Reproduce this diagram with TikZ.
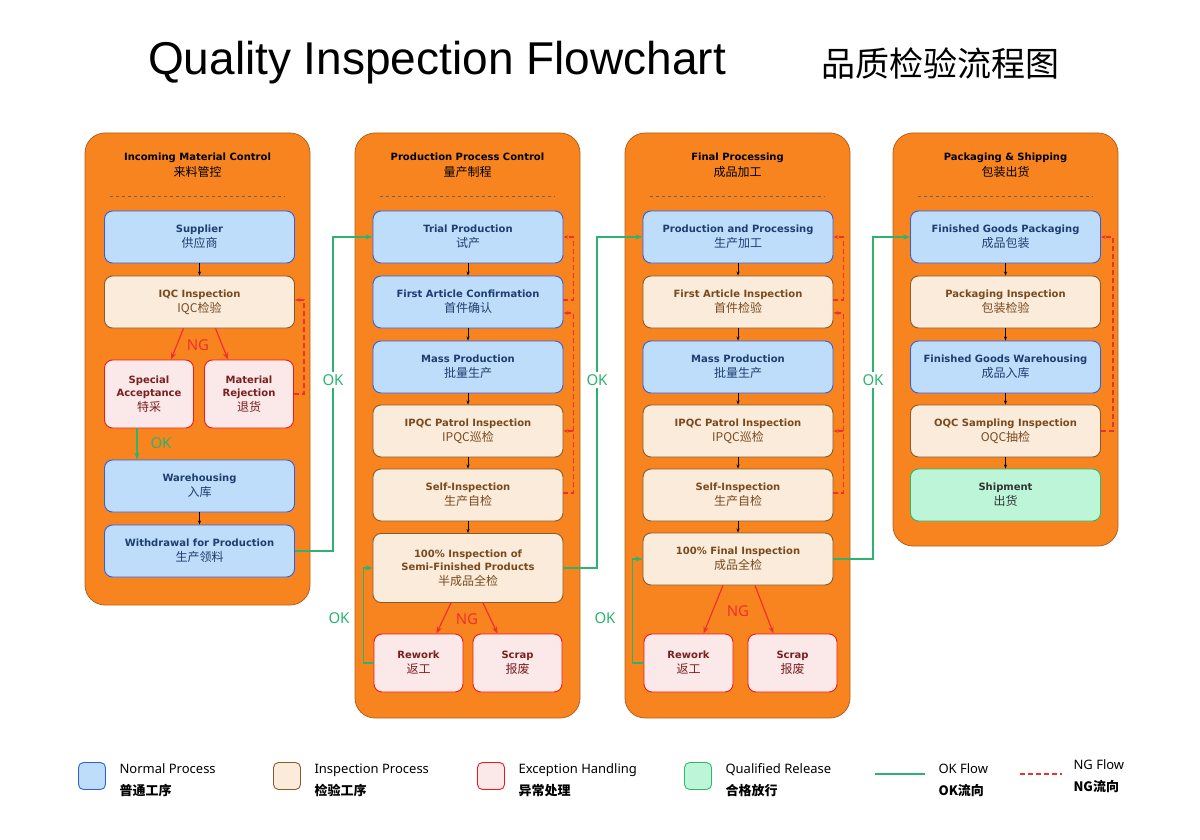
\documentclass[tikz,border=0pt]{standalone}
\usepackage{fontspec}
\setmainfont{DejaVu Sans}
\newfontfamily\cjk{Noto Sans CJK SC}
\newfontfamily\titlefont{Liberation Sans}
\newfontfamily\legfont{Noto Sans}
\usetikzlibrary{positioning,arrows.meta}

\definecolor{colfill}{HTML}{F7841F}
\definecolor{colline}{HTML}{B5611C}
\definecolor{normfill}{HTML}{BEDDFB}
\definecolor{normline}{HTML}{2F5FE8}
\definecolor{normtext}{HTML}{1E3E6E}
\definecolor{inspfill}{HTML}{FAEBDA}
\definecolor{inspline}{HTML}{8B5A2B}
\definecolor{insptext}{HTML}{7A4A1E}
\definecolor{excfill}{HTML}{FBE9EA}
\definecolor{excline}{HTML}{F01818}
\definecolor{exctext}{HTML}{7A1F1F}
\definecolor{passfill}{HTML}{BDF5D8}
\definecolor{passline}{HTML}{2DB86A}
\definecolor{okgreen}{HTML}{2DB36F}
\definecolor{ngred}{HTML}{F03030}

\newcommand{\twoline}[2]{#1\\[2pt]{\cjk\mdseries\fontsize{12}{14}\selectfont #2}}

\tikzset{
  col/.style={fill=colfill,draw=colline,line width=0.8pt,rounded corners=20},
  stepbox/.style={rounded corners=8,line width=0.9pt,minimum width=190,minimum height=52,
    align=center,font=\bfseries\fontsize{10}{13}\selectfont,inner sep=2pt},
  norm/.style={stepbox,fill=normfill,draw=normline,text=normtext},
  insp/.style={stepbox,fill=inspfill,draw=inspline,text=insptext},
  exc/.style={stepbox,fill=excfill,draw=excline,text=exctext,minimum width=89,minimum height=58},
  pass/.style={stepbox,fill=passfill,draw=passline,text=black!80},
  nxt/.style={-{Stealth[length=4pt]},black,line width=0.8pt},
  okline/.style={okgreen,line width=1.2pt,-{Stealth[length=7pt]}},
  ngline/.style={ngred,line width=1.2pt,dash pattern=on 5pt off 3pt,-{Stealth[length=5pt]}},
  ngarr/.style={ngred,line width=1.2pt,-{Stealth[length=7pt]}},
  oklbl/.style={text=okgreen,font=\legfont\fontsize{15}{15}\selectfont,fill=white,inner sep=2pt},
  nglbl/.style={text=ngred,font=\legfont\fontsize{15}{15}\selectfont,inner sep=1pt},
  head/.style={align=center,font=\bfseries\fontsize{10}{16}\selectfont},
  legbox/.style={rounded corners=5,line width=0.9pt,minimum width=27,minimum height=27},
  legtxt/.style={align=left,anchor=west,font=\legfont\bfseries\fontsize{13}{22}\selectfont}
}

\begin{document}
\begin{tikzpicture}[x=1pt,y=-1pt]
\useasboundingbox (0,0) rectangle (1200,840);

% title
\node[font=\titlefont\fontsize{46}{50}\selectfont] (title) at (437,63) {Quality Inspection Flowchart};
\node[font=\cjk\fontsize{34}{40}\selectfont] (titlezh) at (940,63) {品质检验流程图};

% columns
\foreach \x/\b/\en/\zh in {85/605/Incoming Material Control/来料管控,
    355/718/Production Process Control/量产制程,
    625/718/Final Processing/成品加工,
    893/546/Packaging \& Shipping/包装出货}{
  \draw[col] (\x,133) rectangle (\x+225,\b);
  \node[head] at (\x+112.5,165) {\en\\{\cjk\mdseries\fontsize{12}{14}\selectfont \zh}};
  \draw[black!60,dashed,line width=0.5pt] (\x+25,196) -- (\x+200,196);
}

% incoming material control
\node[norm] (sup) at (199.5,237) {\twoline{Supplier}{供应商}};
\node[insp] (iqc) at (199.5,302) {\twoline{IQC Inspection}{IQC检验}};
\node[exc,minimum height=68] (spec) at (149,394) {Special\\Acceptance\\[2pt]{\cjk\mdseries\fontsize{12}{14}\selectfont 特采}};
\node[exc,minimum height=68] (rej) at (249,394) {Material\\Rejection\\[2pt]{\cjk\mdseries\fontsize{12}{14}\selectfont 退货}};
\node[norm] (wh) at (199.5,486) {\twoline{Warehousing}{入库}};
\node[norm] (wd) at (199.5,551) {\twoline{Withdrawal for Production}{生产领料}};

% production process control
\node[norm] (tri) at (468,237) {\twoline{Trial Production}{试产}};
\node[norm] (fac) at (468,302) {\twoline{First Article Confirmation}{首件确认}};
\node[norm] (mass) at (468,367) {\twoline{Mass Production}{批量生产}};
\node[insp] (ipqc) at (468,431) {\twoline{IPQC Patrol Inspection}{IPQC巡检}};
\node[insp] (self) at (468,495) {\twoline{Self-Inspection}{生产自检}};
\node[insp,minimum height=69] (semi) at (468,568) {100\% Inspection of\\Semi-Finished Products\\[2pt]{\cjk\mdseries\fontsize{12}{14}\selectfont 半成品全检}};
\node[exc] (rw) at (418.5,663) {\twoline{Rework}{返工}};
\node[exc] (scr) at (517.5,663) {\twoline{Scrap}{报废}};

% final processing
\node[norm] (prod) at (738,237) {\twoline{Production and Processing}{生产加工}};
\node[insp] (fai) at (738,302) {\twoline{First Article Inspection}{首件检验}};
\node[norm] (massb) at (738,367) {\twoline{Mass Production}{批量生产}};
\node[insp] (ipqcb) at (738,431) {\twoline{IPQC Patrol Inspection}{IPQC巡检}};
\node[insp] (selfb) at (738,495) {\twoline{Self-Inspection}{生产自检}};
\node[insp] (fin) at (738,559) {\twoline{100\% Final Inspection}{成品全检}};
\node[exc] (rwb) at (688.5,663) {\twoline{Rework}{返工}};
\node[exc] (scrb) at (792.5,663) {\twoline{Scrap}{报废}};

% packaging and shipping
\node[norm] (pack) at (1005.5,237) {\twoline{Finished Goods Packaging}{成品包装}};
\node[insp] (pki) at (1005.5,302) {\twoline{Packaging Inspection}{包装检验}};
\node[norm] (fgw) at (1005.5,367) {\twoline{Finished Goods Warehousing}{成品入库}};
\node[insp] (oqc) at (1005.5,431) {\twoline{OQC Sampling Inspection}{OQC抽检}};
\node[pass] (ship) at (1005.5,495) {\twoline{Shipment}{出货}};

% normal flow
\foreach \a/\b in {sup/iqc,wh/wd,tri/fac,fac/mass,mass/ipqc,ipqc/self,self/semi,
    prod/fai,fai/massb,massb/ipqcb,ipqcb/selfb,selfb/fin,pack/pki,pki/fgw,fgw/oqc,oqc/ship}
  \draw[nxt] (\a) -- (\b);

% NG flow
\draw[ngarr] ([xshift=-16]iqc.south) -- ([xshift=22]spec.north);
\draw[ngarr] ([xshift=16]iqc.south) -- ([xshift=-21]rej.north);
\node[nglbl] at (198,345) {NG};
\draw[ngarr] ([xshift=-17]semi.south) -- ([xshift=18]rw.north);
\draw[ngarr] ([xshift=15]semi.south) -- ([xshift=-20]scr.north);
\node[nglbl] at (467,619) {NG};
\draw[ngarr] ([xshift=-15]fin.south) -- ([xshift=15]rwb.north);
\draw[ngarr] ([xshift=17]fin.south) -- ([xshift=-19]scrb.north);
\node[nglbl] at (738,611) {NG};

\draw[ngline] (rej.east) -- ++(10,0) |- ([yshift=2]iqc.east);
\draw[ngline] ([yshift=2]fac.east) -- ++(10,0) |- (tri.east);
\draw[ngline] ([yshift=2]self.east) -- ++(10,0) |- ([yshift=-11]fac.east);
\draw[ngline] ([xshift=10]ipqc.east) -- (ipqc.east);
\draw[ngline] ([yshift=2]selfb.east) -- ++(10,0) |- ([yshift=-11]fai.east);
\draw[ngline] ([yshift=2]fai.east) -- ++(10,0) |- (prod.east);
\draw[ngline] ([xshift=10]ipqcb.east) -- (ipqcb.east);
\draw[ngline] (oqc.east) -- ++(12,0) |- (pack.east);

% OK flow
\draw[okline] ([xshift=-12]spec.south) -- ([xshift=-12]spec.south |- wh.north);
\node[oklbl,fill=none] at (161,443) {OK};
\draw[okline] (wd.east) -- (333,551) |- (tri.west);
\node[oklbl] at (333,380) {OK};
\draw[okline] (semi.east) -- (597,568) |- (prod.west);
\node[oklbl] at (597,380) {OK};
\draw[okline] (fin.east) -- (873,559) |- (pack.west);
\node[oklbl] at (873,380) {OK};
\draw[okline] (rw.west) -- ++(-10,0) |- (semi.west);
\node[oklbl] at (339,618) {OK};
\draw[okline] (rwb.west) -- ++(-11,0) |- (fin.west);
\node[oklbl] at (605,618) {OK};

% legend
\foreach \x/\en/\zh in {92/Normal Process/普通工序,
    287/Inspection Process/检验工序,
    491/Exception Handling/异常处理,
    698/Qualified Release/合格放行}{
  \node[legtxt] at (\x+24,780) {\en\\{\cjk\bfseries \zh}};
}
\node[legbox,fill=normfill,draw=normline] (lg1) at (92,776) {};
\node[legbox,fill=inspfill,draw=inspline] (lg2) at (287,776) {};
\node[legbox,fill=excfill,draw=excline] (lg3) at (491,776) {};
\node[legbox,fill=passfill,draw=passline] (lg4) at (698,776) {};
\coordinate (ok1) at (875,774);
\coordinate (ok2) at (925,774);
\draw[okgreen,line width=1.5pt] (ok1) -- (ok2);
\node[legtxt] at (935,780) {OK Flow\\{\cjk\bfseries OK流向}};
\coordinate (ng1) at (1020,774);
\coordinate (ng2) at (1062,774);
\draw[ngred,line width=1.5pt,dash pattern=on 5pt off 3pt] (ng1) -- (ng2);
\node[legtxt] at (1070,776) {NG Flow\\{\cjk\bfseries NG流向}};
\end{tikzpicture}
\end{document}
